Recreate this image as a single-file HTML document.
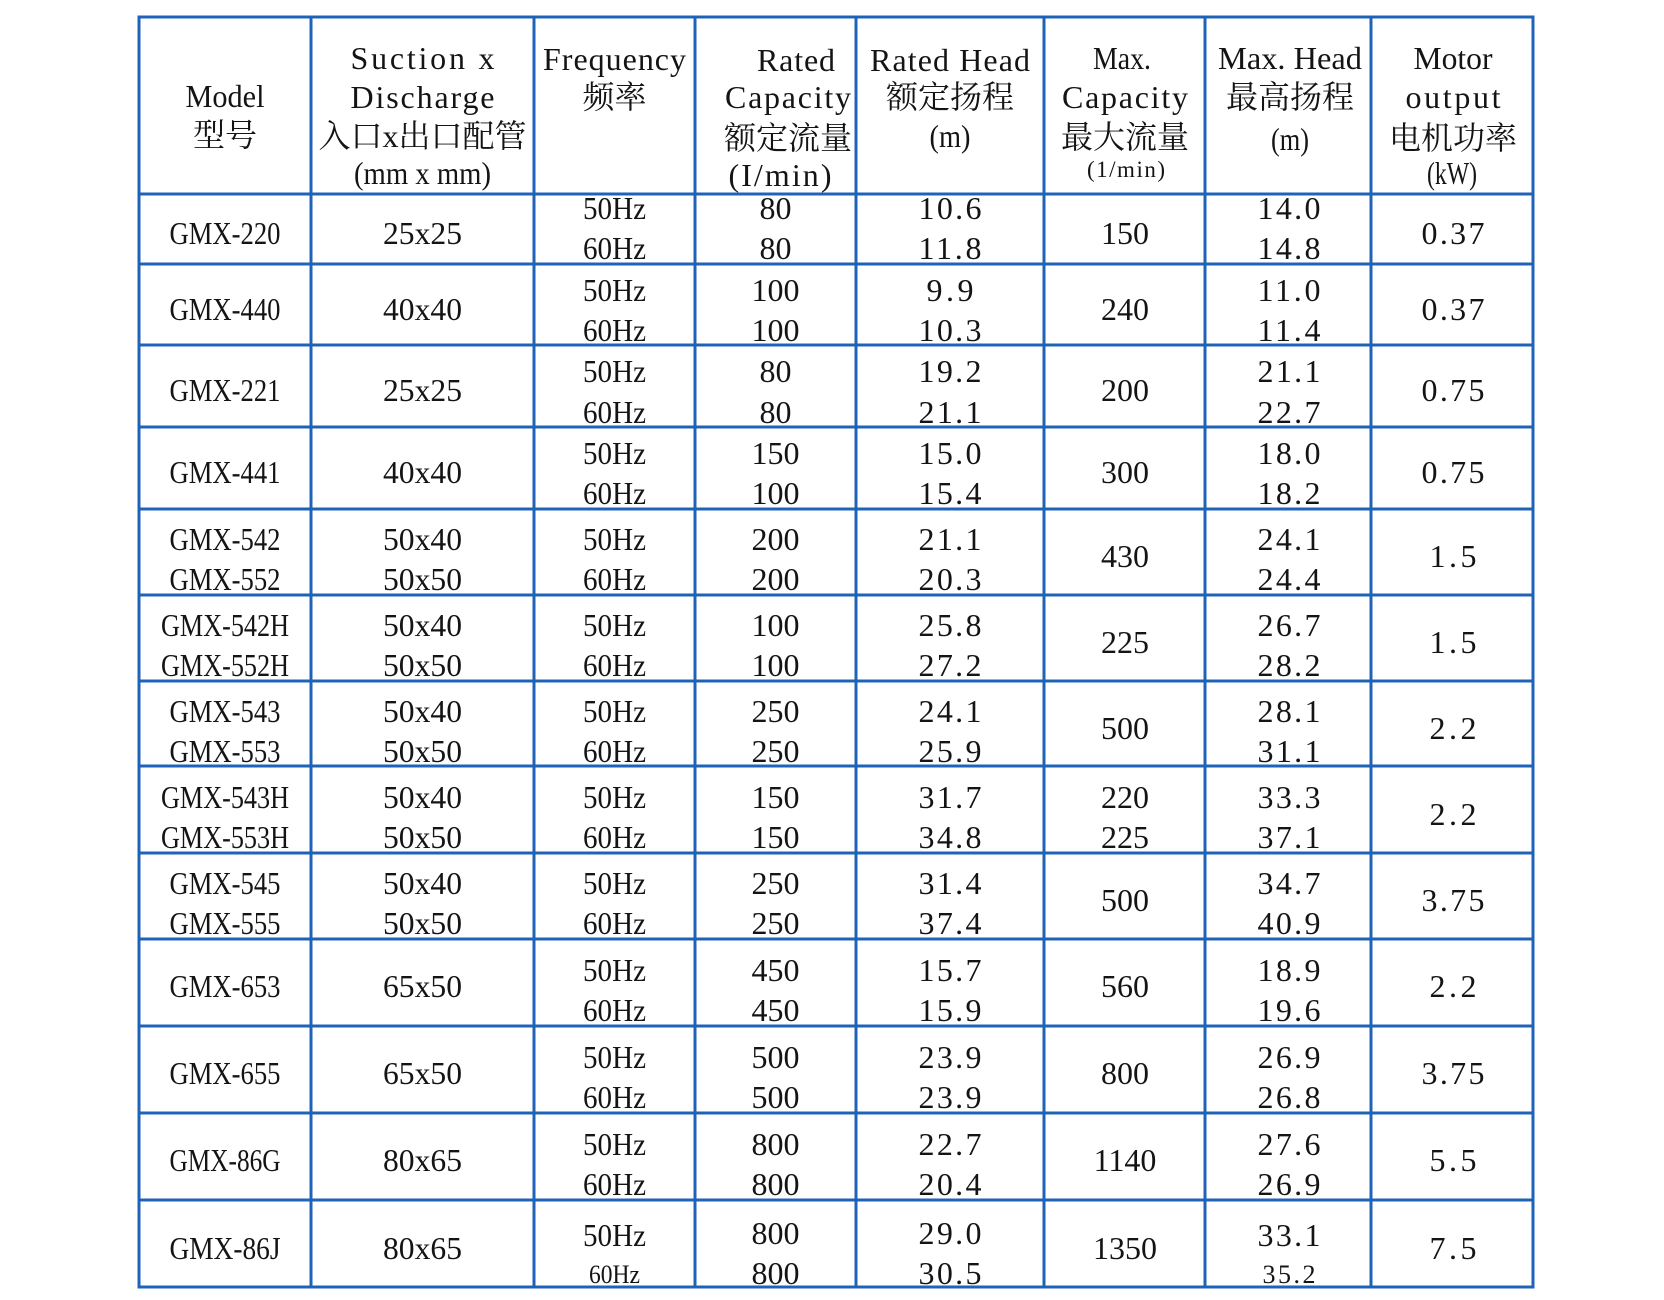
<!DOCTYPE html>
<html>
<head>
<meta charset="utf-8">
<style>
  html,body{margin:0;padding:0;background:#fff;}
  svg{display:block;}
  text{font-family:"Liberation Serif","Noto Serif CJK SC",serif;fill:#141414;font-size:32px;}
  .s{font-size:23px;}
  .m{font-size:26px;}
</style>
</head>
<body>
<svg width="1664" height="1300" viewBox="0 0 1664 1300" xmlns="http://www.w3.org/2000/svg">
<rect width="1664" height="1300" fill="#fff"/>
<g stroke="#1f63b9" stroke-width="3" fill="none">
  <line x1="139" y1="17" x2="1533" y2="17"/>
  <line x1="139" y1="194" x2="1533" y2="194"/>
  <line x1="139" y1="264" x2="1533" y2="264"/>
  <line x1="139" y1="345" x2="1533" y2="345"/>
  <line x1="139" y1="427" x2="1533" y2="427"/>
  <line x1="139" y1="509" x2="1533" y2="509"/>
  <line x1="139" y1="595" x2="1533" y2="595"/>
  <line x1="139" y1="681" x2="1533" y2="681"/>
  <line x1="139" y1="766" x2="1533" y2="766"/>
  <line x1="139" y1="853" x2="1533" y2="853"/>
  <line x1="139" y1="939" x2="1533" y2="939"/>
  <line x1="139" y1="1026" x2="1533" y2="1026"/>
  <line x1="139" y1="1113" x2="1533" y2="1113"/>
  <line x1="139" y1="1200" x2="1533" y2="1200"/>
  <line x1="139" y1="1287" x2="1533" y2="1287"/>
  <line x1="139" y1="15.5" x2="139" y2="1288.5"/>
  <line x1="311" y1="17" x2="311" y2="1287"/>
  <line x1="534" y1="17" x2="534" y2="1287"/>
  <line x1="695" y1="17" x2="695" y2="1287"/>
  <line x1="856" y1="17" x2="856" y2="1287"/>
  <line x1="1044" y1="17" x2="1044" y2="1287"/>
  <line x1="1205" y1="17" x2="1205" y2="1287"/>
  <line x1="1371" y1="17" x2="1371" y2="1287"/>
  <line x1="1533" y1="15.5" x2="1533" y2="1288.5"/>
</g>

<g text-anchor="middle">
<!-- Header -->
<text x="225" y="107" textLength="79" lengthAdjust="spacingAndGlyphs">Model</text>
<text x="225" y="146">型号</text>

<text x="422.5" y="69" textLength="144" lengthAdjust="spacing">Suction x</text>
<text x="422.5" y="108" textLength="144" lengthAdjust="spacing">Discharge</text>
<text x="422.5" y="147">入口x出口配管</text>
<text x="422.5" y="184" textLength="137" lengthAdjust="spacingAndGlyphs">(mm x mm)</text>

<text x="614.5" y="70" textLength="143" lengthAdjust="spacing">Frequency</text>
<text x="614.5" y="108">频率</text>

<text x="796" y="71" textLength="78" lengthAdjust="spacing">Rated</text>
<text x="788" y="108" textLength="126" lengthAdjust="spacing">Capacity</text>
<text x="788" y="149">额定流量</text>
<text x="780" y="186" textLength="103" lengthAdjust="spacing">(I/min)</text>

<text x="950" y="71" textLength="160" lengthAdjust="spacing">Rated Head</text>
<text x="950" y="108">额定扬程</text>
<text x="950" y="147" textLength="41" lengthAdjust="spacingAndGlyphs">(m)</text>

<text x="1122" y="69" textLength="58" lengthAdjust="spacingAndGlyphs">Max.</text>
<text x="1125" y="108" textLength="126" lengthAdjust="spacing">Capacity</text>
<text x="1125" y="148">最大流量</text>
<text class="s" x="1126" y="177" textLength="78" lengthAdjust="spacing">(1/min)</text>

<text x="1290" y="69" textLength="144" lengthAdjust="spacingAndGlyphs">Max. Head</text>
<text x="1290" y="108">最高扬程</text>
<text x="1290" y="150" textLength="38" lengthAdjust="spacingAndGlyphs">(m)</text>

<text x="1453" y="69" textLength="79" lengthAdjust="spacingAndGlyphs">Motor</text>
<text x="1453" y="108" textLength="95" lengthAdjust="spacing">output</text>
<text x="1453" y="149">电机功率</text>
<text x="1452" y="184" textLength="50" lengthAdjust="spacingAndGlyphs">(kW)</text>

<!-- Row 0 -->
<text x="225" y="244" textLength="111" lengthAdjust="spacingAndGlyphs">GMX-220</text>
<text x="422.5" y="244" textLength="79" lengthAdjust="spacingAndGlyphs">25x25</text>
<text x="614.5" y="219" textLength="63" lengthAdjust="spacingAndGlyphs">50Hz</text>
<text x="614.5" y="259" textLength="63" lengthAdjust="spacingAndGlyphs">60Hz</text>
<text x="775.5" y="219">80</text>
<text x="775.5" y="259">80</text>
<text x="950" y="219" textLength="63" lengthAdjust="spacing">10.6</text>
<text x="950" y="259" textLength="63" lengthAdjust="spacing">11.8</text>
<text x="1125" y="244">150</text>
<text x="1289" y="219" textLength="63" lengthAdjust="spacing">14.0</text>
<text x="1289" y="259" textLength="63" lengthAdjust="spacing">14.8</text>
<text x="1453" y="244" textLength="63" lengthAdjust="spacing">0.37</text>

<!-- Row 1 -->
<text x="225" y="320" textLength="111" lengthAdjust="spacingAndGlyphs">GMX-440</text>
<text x="422.5" y="320" textLength="79" lengthAdjust="spacingAndGlyphs">40x40</text>
<text x="614.5" y="301" textLength="63" lengthAdjust="spacingAndGlyphs">50Hz</text>
<text x="614.5" y="341" textLength="63" lengthAdjust="spacingAndGlyphs">60Hz</text>
<text x="775.5" y="301">100</text>
<text x="775.5" y="341">100</text>
<text x="950" y="301" textLength="47" lengthAdjust="spacing">9.9</text>
<text x="950" y="341" textLength="63" lengthAdjust="spacing">10.3</text>
<text x="1125" y="320">240</text>
<text x="1289" y="301" textLength="63" lengthAdjust="spacing">11.0</text>
<text x="1289" y="341" textLength="63" lengthAdjust="spacing">11.4</text>
<text x="1453" y="320" textLength="63" lengthAdjust="spacing">0.37</text>

<!-- Row 2 -->
<text x="225" y="401" textLength="111" lengthAdjust="spacingAndGlyphs">GMX-221</text>
<text x="422.5" y="401" textLength="79" lengthAdjust="spacingAndGlyphs">25x25</text>
<text x="614.5" y="382" textLength="63" lengthAdjust="spacingAndGlyphs">50Hz</text>
<text x="614.5" y="423" textLength="63" lengthAdjust="spacingAndGlyphs">60Hz</text>
<text x="775.5" y="382">80</text>
<text x="775.5" y="423">80</text>
<text x="950" y="382" textLength="63" lengthAdjust="spacing">19.2</text>
<text x="950" y="423" textLength="63" lengthAdjust="spacing">21.1</text>
<text x="1125" y="401">200</text>
<text x="1289" y="382" textLength="63" lengthAdjust="spacing">21.1</text>
<text x="1289" y="423" textLength="63" lengthAdjust="spacing">22.7</text>
<text x="1453" y="401" textLength="63" lengthAdjust="spacing">0.75</text>

<!-- Row 3 -->
<text x="225" y="483" textLength="111" lengthAdjust="spacingAndGlyphs">GMX-441</text>
<text x="422.5" y="483" textLength="79" lengthAdjust="spacingAndGlyphs">40x40</text>
<text x="614.5" y="464" textLength="63" lengthAdjust="spacingAndGlyphs">50Hz</text>
<text x="614.5" y="504" textLength="63" lengthAdjust="spacingAndGlyphs">60Hz</text>
<text x="775.5" y="464">150</text>
<text x="775.5" y="504">100</text>
<text x="950" y="464" textLength="63" lengthAdjust="spacing">15.0</text>
<text x="950" y="504" textLength="63" lengthAdjust="spacing">15.4</text>
<text x="1125" y="483">300</text>
<text x="1289" y="464" textLength="63" lengthAdjust="spacing">18.0</text>
<text x="1289" y="504" textLength="63" lengthAdjust="spacing">18.2</text>
<text x="1453" y="483" textLength="63" lengthAdjust="spacing">0.75</text>

<!-- Row 4 -->
<text x="225" y="550" textLength="111" lengthAdjust="spacingAndGlyphs">GMX-542</text>
<text x="225" y="590" textLength="111" lengthAdjust="spacingAndGlyphs">GMX-552</text>
<text x="422.5" y="550" textLength="79" lengthAdjust="spacingAndGlyphs">50x40</text>
<text x="422.5" y="590" textLength="79" lengthAdjust="spacingAndGlyphs">50x50</text>
<text x="614.5" y="550" textLength="63" lengthAdjust="spacingAndGlyphs">50Hz</text>
<text x="614.5" y="590" textLength="63" lengthAdjust="spacingAndGlyphs">60Hz</text>
<text x="775.5" y="550">200</text>
<text x="775.5" y="590">200</text>
<text x="950" y="550" textLength="63" lengthAdjust="spacing">21.1</text>
<text x="950" y="590" textLength="63" lengthAdjust="spacing">20.3</text>
<text x="1125" y="567">430</text>
<text x="1289" y="550" textLength="63" lengthAdjust="spacing">24.1</text>
<text x="1289" y="590" textLength="63" lengthAdjust="spacing">24.4</text>
<text x="1453" y="567" textLength="47" lengthAdjust="spacing">1.5</text>

<!-- Row 5 -->
<text x="225" y="636" textLength="128" lengthAdjust="spacingAndGlyphs">GMX-542H</text>
<text x="225" y="676" textLength="128" lengthAdjust="spacingAndGlyphs">GMX-552H</text>
<text x="422.5" y="636" textLength="79" lengthAdjust="spacingAndGlyphs">50x40</text>
<text x="422.5" y="676" textLength="79" lengthAdjust="spacingAndGlyphs">50x50</text>
<text x="614.5" y="636" textLength="63" lengthAdjust="spacingAndGlyphs">50Hz</text>
<text x="614.5" y="676" textLength="63" lengthAdjust="spacingAndGlyphs">60Hz</text>
<text x="775.5" y="636">100</text>
<text x="775.5" y="676">100</text>
<text x="950" y="636" textLength="63" lengthAdjust="spacing">25.8</text>
<text x="950" y="676" textLength="63" lengthAdjust="spacing">27.2</text>
<text x="1125" y="653">225</text>
<text x="1289" y="636" textLength="63" lengthAdjust="spacing">26.7</text>
<text x="1289" y="676" textLength="63" lengthAdjust="spacing">28.2</text>
<text x="1453" y="653" textLength="47" lengthAdjust="spacing">1.5</text>

<!-- Row 6 -->
<text x="225" y="722" textLength="111" lengthAdjust="spacingAndGlyphs">GMX-543</text>
<text x="225" y="762" textLength="111" lengthAdjust="spacingAndGlyphs">GMX-553</text>
<text x="422.5" y="722" textLength="79" lengthAdjust="spacingAndGlyphs">50x40</text>
<text x="422.5" y="762" textLength="79" lengthAdjust="spacingAndGlyphs">50x50</text>
<text x="614.5" y="722" textLength="63" lengthAdjust="spacingAndGlyphs">50Hz</text>
<text x="614.5" y="762" textLength="63" lengthAdjust="spacingAndGlyphs">60Hz</text>
<text x="775.5" y="722">250</text>
<text x="775.5" y="762">250</text>
<text x="950" y="722" textLength="63" lengthAdjust="spacing">24.1</text>
<text x="950" y="762" textLength="63" lengthAdjust="spacing">25.9</text>
<text x="1125" y="739">500</text>
<text x="1289" y="722" textLength="63" lengthAdjust="spacing">28.1</text>
<text x="1289" y="762" textLength="63" lengthAdjust="spacing">31.1</text>
<text x="1453" y="739" textLength="47" lengthAdjust="spacing">2.2</text>

<!-- Row 7 -->
<text x="225" y="808" textLength="128" lengthAdjust="spacingAndGlyphs">GMX-543H</text>
<text x="225" y="848" textLength="128" lengthAdjust="spacingAndGlyphs">GMX-553H</text>
<text x="422.5" y="808" textLength="79" lengthAdjust="spacingAndGlyphs">50x40</text>
<text x="422.5" y="848" textLength="79" lengthAdjust="spacingAndGlyphs">50x50</text>
<text x="614.5" y="808" textLength="63" lengthAdjust="spacingAndGlyphs">50Hz</text>
<text x="614.5" y="848" textLength="63" lengthAdjust="spacingAndGlyphs">60Hz</text>
<text x="775.5" y="808">150</text>
<text x="775.5" y="848">150</text>
<text x="950" y="808" textLength="63" lengthAdjust="spacing">31.7</text>
<text x="950" y="848" textLength="63" lengthAdjust="spacing">34.8</text>
<text x="1125" y="808">220</text>
<text x="1125" y="848">225</text>
<text x="1289" y="808" textLength="63" lengthAdjust="spacing">33.3</text>
<text x="1289" y="848" textLength="63" lengthAdjust="spacing">37.1</text>
<text x="1453" y="825" textLength="47" lengthAdjust="spacing">2.2</text>

<!-- Row 8 -->
<text x="225" y="894" textLength="111" lengthAdjust="spacingAndGlyphs">GMX-545</text>
<text x="225" y="934" textLength="111" lengthAdjust="spacingAndGlyphs">GMX-555</text>
<text x="422.5" y="894" textLength="79" lengthAdjust="spacingAndGlyphs">50x40</text>
<text x="422.5" y="934" textLength="79" lengthAdjust="spacingAndGlyphs">50x50</text>
<text x="614.5" y="894" textLength="63" lengthAdjust="spacingAndGlyphs">50Hz</text>
<text x="614.5" y="934" textLength="63" lengthAdjust="spacingAndGlyphs">60Hz</text>
<text x="775.5" y="894">250</text>
<text x="775.5" y="934">250</text>
<text x="950" y="894" textLength="63" lengthAdjust="spacing">31.4</text>
<text x="950" y="934" textLength="63" lengthAdjust="spacing">37.4</text>
<text x="1125" y="911">500</text>
<text x="1289" y="894" textLength="63" lengthAdjust="spacing">34.7</text>
<text x="1289" y="934" textLength="63" lengthAdjust="spacing">40.9</text>
<text x="1453" y="911" textLength="63" lengthAdjust="spacing">3.75</text>

<!-- Row 9 -->
<text x="225" y="997" textLength="111" lengthAdjust="spacingAndGlyphs">GMX-653</text>
<text x="422.5" y="997" textLength="79" lengthAdjust="spacingAndGlyphs">65x50</text>
<text x="614.5" y="981" textLength="63" lengthAdjust="spacingAndGlyphs">50Hz</text>
<text x="614.5" y="1021" textLength="63" lengthAdjust="spacingAndGlyphs">60Hz</text>
<text x="775.5" y="981">450</text>
<text x="775.5" y="1021">450</text>
<text x="950" y="981" textLength="63" lengthAdjust="spacing">15.7</text>
<text x="950" y="1021" textLength="63" lengthAdjust="spacing">15.9</text>
<text x="1125" y="997">560</text>
<text x="1289" y="981" textLength="63" lengthAdjust="spacing">18.9</text>
<text x="1289" y="1021" textLength="63" lengthAdjust="spacing">19.6</text>
<text x="1453" y="997" textLength="47" lengthAdjust="spacing">2.2</text>

<!-- Row 10 -->
<text x="225" y="1084" textLength="111" lengthAdjust="spacingAndGlyphs">GMX-655</text>
<text x="422.5" y="1084" textLength="79" lengthAdjust="spacingAndGlyphs">65x50</text>
<text x="614.5" y="1068" textLength="63" lengthAdjust="spacingAndGlyphs">50Hz</text>
<text x="614.5" y="1108" textLength="63" lengthAdjust="spacingAndGlyphs">60Hz</text>
<text x="775.5" y="1068">500</text>
<text x="775.5" y="1108">500</text>
<text x="950" y="1068" textLength="63" lengthAdjust="spacing">23.9</text>
<text x="950" y="1108" textLength="63" lengthAdjust="spacing">23.9</text>
<text x="1125" y="1084">800</text>
<text x="1289" y="1068" textLength="63" lengthAdjust="spacing">26.9</text>
<text x="1289" y="1108" textLength="63" lengthAdjust="spacing">26.8</text>
<text x="1453" y="1084" textLength="63" lengthAdjust="spacing">3.75</text>

<!-- Row 11 -->
<text x="225" y="1171" textLength="111" lengthAdjust="spacingAndGlyphs">GMX-86G</text>
<text x="422.5" y="1171" textLength="79" lengthAdjust="spacingAndGlyphs">80x65</text>
<text x="614.5" y="1155" textLength="63" lengthAdjust="spacingAndGlyphs">50Hz</text>
<text x="614.5" y="1195" textLength="63" lengthAdjust="spacingAndGlyphs">60Hz</text>
<text x="775.5" y="1155">800</text>
<text x="775.5" y="1195">800</text>
<text x="950" y="1155" textLength="63" lengthAdjust="spacing">22.7</text>
<text x="950" y="1195" textLength="63" lengthAdjust="spacing">20.4</text>
<text x="1125" y="1171">1140</text>
<text x="1289" y="1155" textLength="63" lengthAdjust="spacing">27.6</text>
<text x="1289" y="1195" textLength="63" lengthAdjust="spacing">26.9</text>
<text x="1453" y="1171" textLength="47" lengthAdjust="spacing">5.5</text>

<!-- Row 12 -->
<text x="225" y="1259" textLength="111" lengthAdjust="spacingAndGlyphs">GMX-86J</text>
<text x="422.5" y="1259" textLength="79" lengthAdjust="spacingAndGlyphs">80x65</text>
<text x="614.5" y="1246" textLength="63" lengthAdjust="spacingAndGlyphs">50Hz</text>
<text class="m" x="614.5" y="1283" textLength="51" lengthAdjust="spacingAndGlyphs">60Hz</text>
<text x="775.5" y="1244">800</text>
<text x="775.5" y="1284">800</text>
<text x="950" y="1244" textLength="63" lengthAdjust="spacing">29.0</text>
<text x="950" y="1284" textLength="63" lengthAdjust="spacing">30.5</text>
<text x="1125" y="1259">1350</text>
<text x="1289" y="1246" textLength="63" lengthAdjust="spacing">33.1</text>
<text class="m" x="1289" y="1283" textLength="53" lengthAdjust="spacing">35.2</text>
<text x="1453" y="1259" textLength="47" lengthAdjust="spacing">7.5</text>
</g>
</svg>
</body>
</html>
